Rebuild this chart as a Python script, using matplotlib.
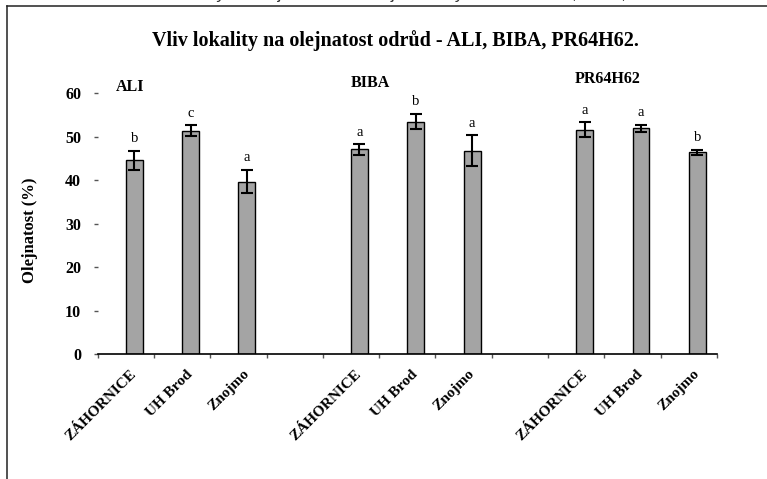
import matplotlib
matplotlib.use("Agg")
import matplotlib.pyplot as plt
from matplotlib.lines import Line2D

# values (oil content, %)
groups = ["ALI", "BIBA", "PR64H62"]
locations = ["ZÁHORNICE", "UH Brod", "Znojmo"]
ali = [44.6, 51.4, 39.7]
ali_err = [2.2, 1.2, 2.7]
ali_sig = ["b", "c", "a"]
biba = [47.1, 53.5, 46.8]
biba_err = [1.2, 1.8, 3.6]
biba_sig = ["a", "b", "a"]
pr = [51.6, 51.9, 46.4]
pr_err = [1.7, 0.9, 0.6]
pr_sig = ["a", "a", "b"]

serif = "Liberation Serif"

fig = plt.figure(figsize=(7.67, 4.79), dpi=100)
fig.patch.set_facecolor("white")

# frame of the embedded chart + cropped caption line above it
fig.add_artist(Line2D([7 / 767, 7 / 767], [0, 1 - 6 / 479], color="#222222", lw=1.1))
fig.add_artist(Line2D([7 / 767, 1], [1 - 6 / 479, 1 - 6 / 479], color="#222222", lw=1.1))
fig.text(0.5, 1.0 + 0.5 / 479,
         "Graf č. 7: Vliv lokality na olejnatost semen jednotlivých odrůd - ALI, BIBA, PR64H62",
         ha="center", va="baseline", fontsize=12.5, family="Liberation Sans", color="#333333")

ax = fig.add_axes([97.7 / 767, 1 - 354 / 479, (717 - 97.7) / 767, (354 - 93.3) / 479])

values = ali + biba + pr
errs = ali_err + biba_err + pr_err
sigs = ali_sig + biba_sig + pr_sig
labels = locations * 3
slots = [0, 1, 2, 4, 5, 6, 8, 9, 10]
xs = [s + 0.65 for s in slots]

ax.bar(xs, values, width=0.3, color="#a4a4a4", edgecolor="black", linewidth=1.0, zorder=2)
ax.errorbar(xs, values, yerr=errs, fmt="none", ecolor="black", elinewidth=1.5,
            capsize=4, capthick=1.5, zorder=3)

for x, v, e, s in zip(xs, values, errs, sigs):
    ax.annotate(s, (x, v + e), xytext=(0, 6), textcoords="offset points",
                ha="center", va="baseline", fontsize=10.5, family=serif)

group_pos = [(0.57, 60.6), (4.84, 61.4), (9.05, 62.3)]
for g, (gx, gy) in zip(groups, group_pos):
    ax.text(gx, gy, g, ha="center", va="baseline", fontsize=11.5, family=serif,
            fontweight="bold", clip_on=False)

ax.set_xlim(0, 11)
ax.set_ylim(0, 60)
ax.set_yticks(range(0, 61, 10))
ax.set_xticks(range(0, 12))
ax.set_xticklabels([])
ax.set_xticks(xs, minor=True)
ax.set_xticklabels(labels, minor=True, rotation=45, ha="right", va="center",
                   rotation_mode="anchor", fontsize=11, family=serif, fontweight="bold")
ax.tick_params(axis="x", which="major", length=3, width=1, color="#555555")
ax.tick_params(axis="x", which="minor", length=0, pad=13)
ax.tick_params(axis="y", length=3, width=1, pad=9, color="#555555")
for lab in ax.get_yticklabels():
    lab.set_family(serif)
    lab.set_fontweight("bold")
    lab.set_fontsize(11.5)

for sp in ["top", "right", "left"]:
    ax.spines[sp].set_visible(False)
ax.spines["bottom"].set_linewidth(1.2)

ax.set_ylabel("Olejnatost (%)", family=serif, fontweight="bold", fontsize=12)
ax.yaxis.set_label_coords(-(97.7 - 38) / (717 - 97.7), (354 - 230) / (354 - 93.3))

fig.text(395 / 767, 1 - 41 / 479, "Vliv lokality na olejnatost odrůd - ALI, BIBA, PR64H62.",
         ha="center", va="center", fontsize=14.5, family=serif, fontweight="bold")

fig.savefig("out.png", dpi=100, facecolor="white")
